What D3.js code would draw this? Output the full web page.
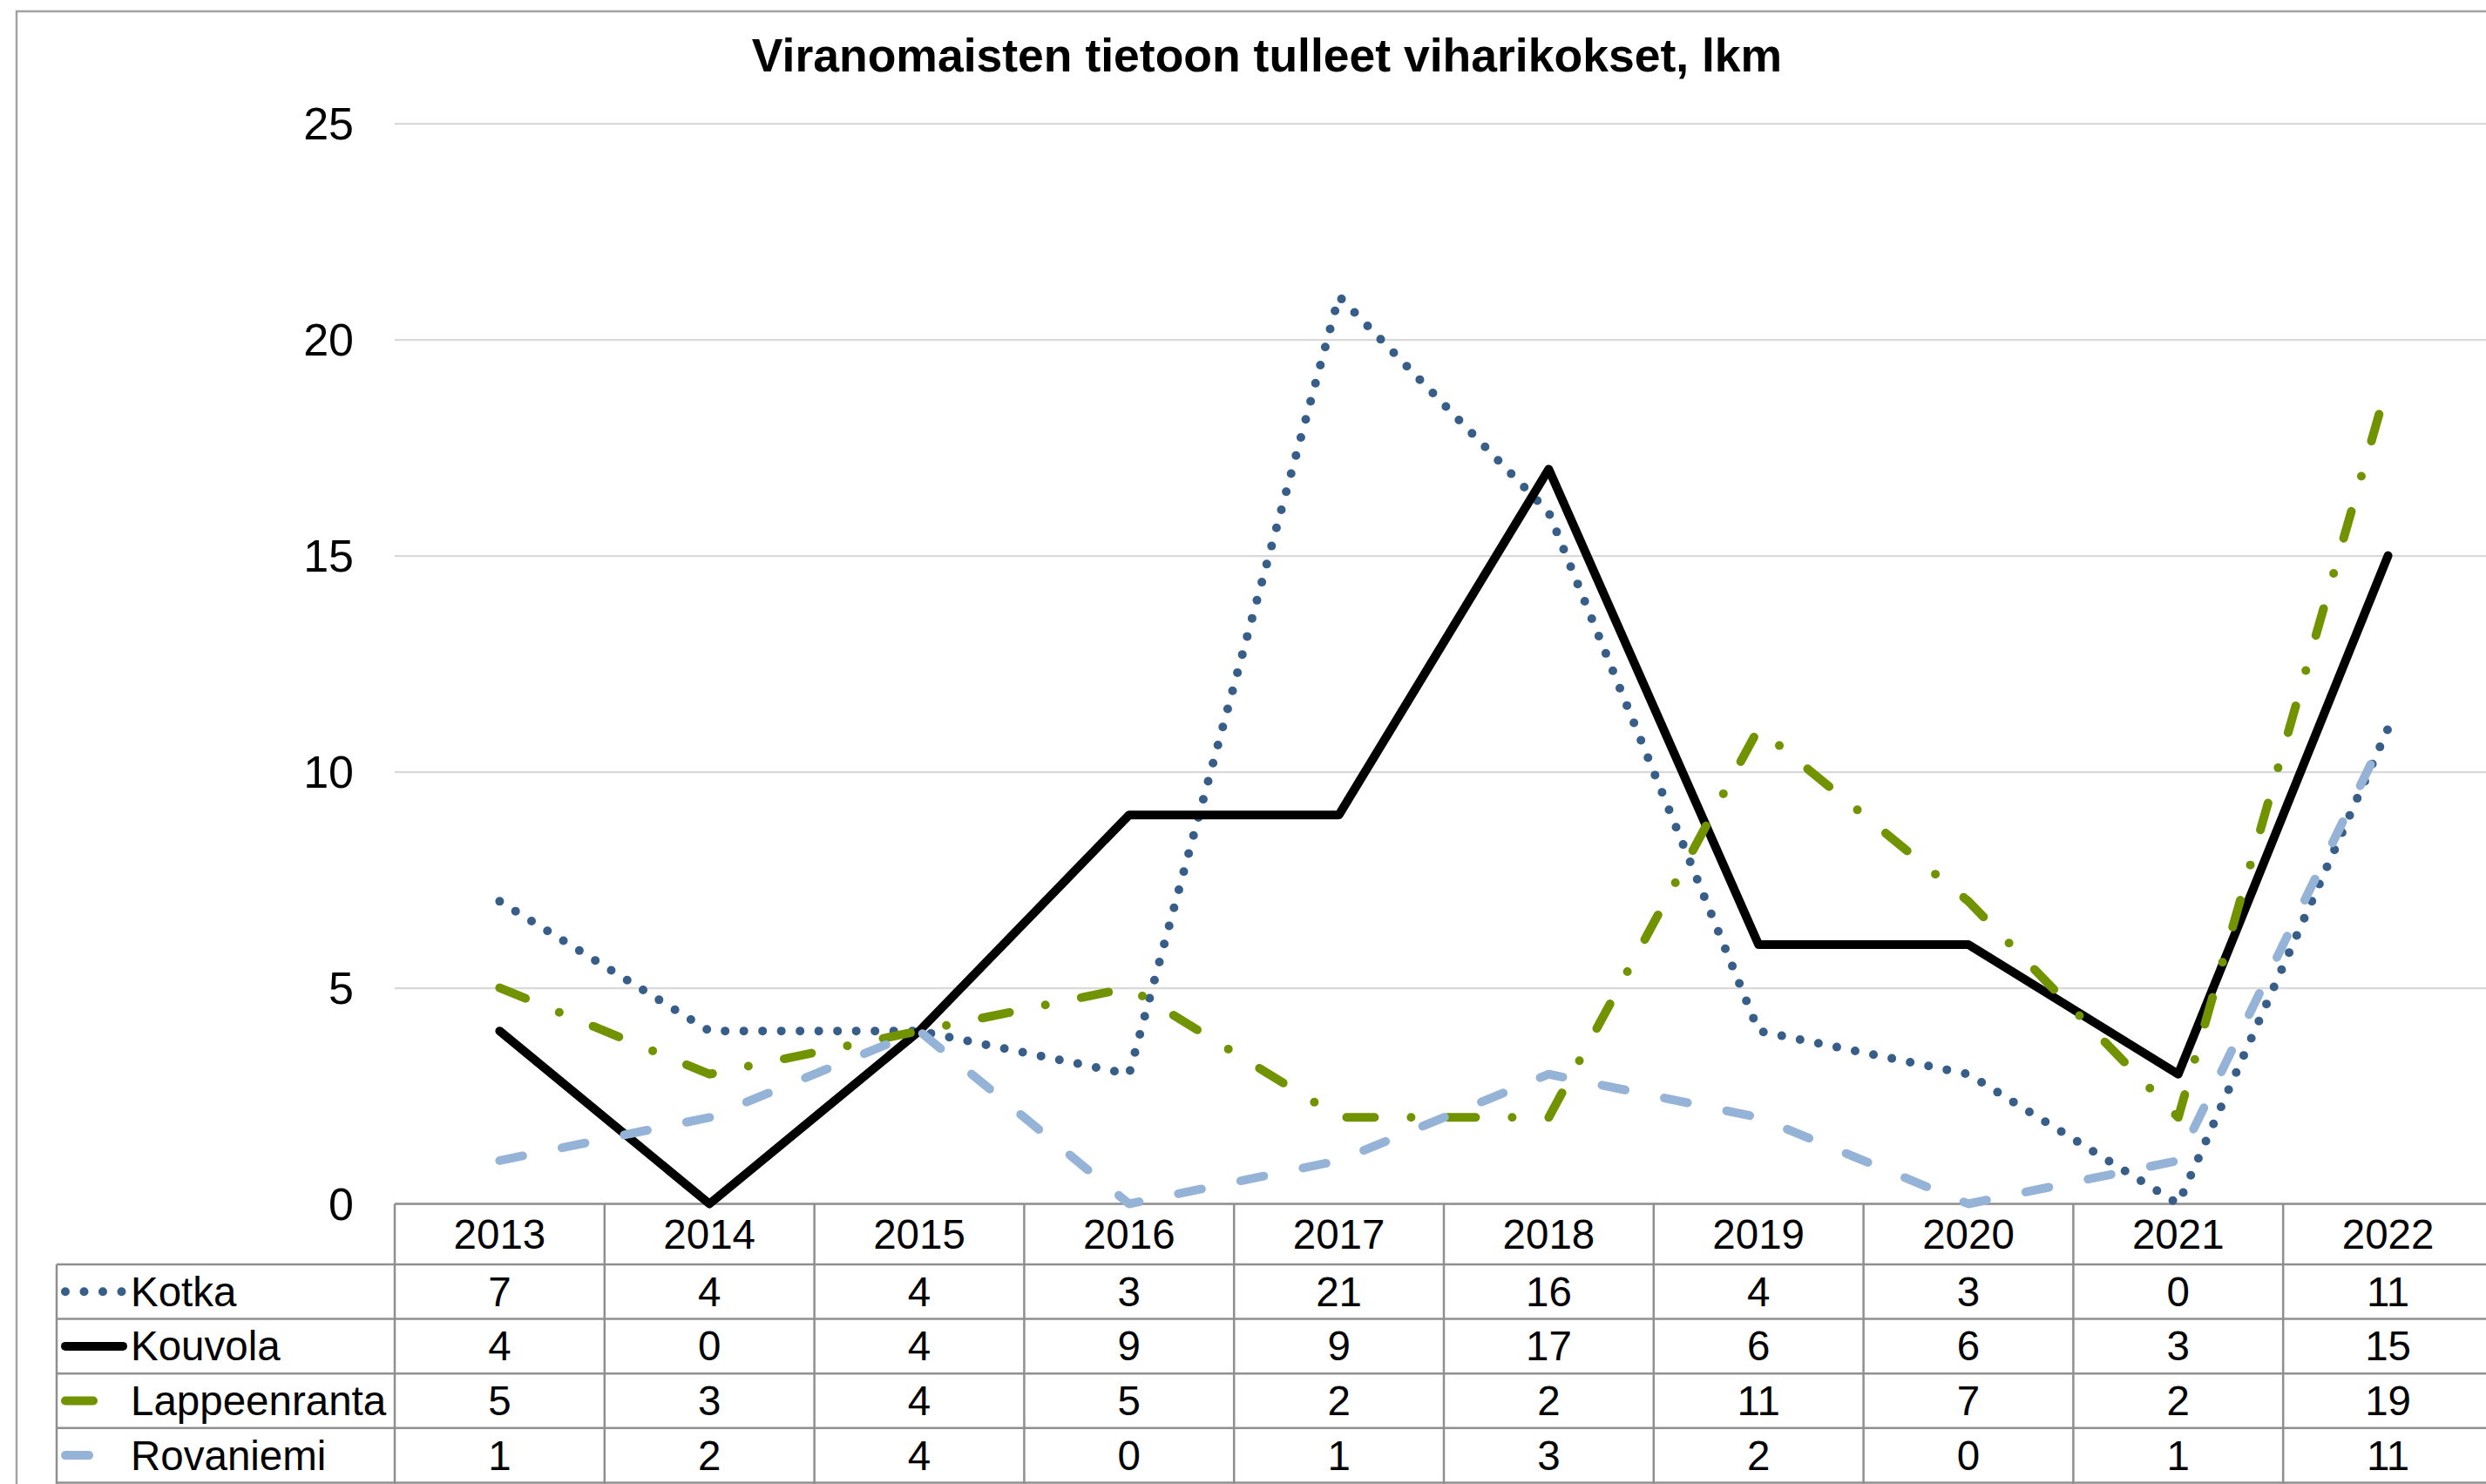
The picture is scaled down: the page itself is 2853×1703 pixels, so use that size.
<!DOCTYPE html>
<html>
<head>
<meta charset="utf-8">
<script src="https://cdn.jsdelivr.net/npm/d3@7"></script>
<style>
  html, body { margin: 0; padding: 0; background: #fff; }
  body { width: 2853px; height: 1703px; overflow: hidden; }
  text { font-family: "Liberation Sans", Arial, sans-serif; fill: #000; }
</style>
</head>
<body>
<script>
//data
const years = ['2013', '2014', '2015', '2016', '2017', '2018', '2019', '2020', '2021', '2022']
const kotka = [7, 4, 4, 3, 21, 16, 4, 3, 0, 11]
const kouvola = [4, 0, 4, 9, 9, 17, 6, 6, 3, 15]
const lappeenranta = [5, 3, 4, 5, 2, 2, 11, 7, 2, 19]
const rovaniemi = [1, 2, 4, 0, 1, 3, 2, 0, 1, 11]
const yTicks = [0, 5, 10, 15, 20, 25]

const chartTitle = 'Viranomaisten tietoon tulleet viharikokset, lkm'

//series with their line styles (later ones drawn on top)
const series = [
  { name: 'Kotka', values: kotka, color: '#375d89', width: 10, dash: '0 21.5' },
  { name: 'Kouvola', values: kouvola, color: '#000000', width: 10, dash: null },
  { name: 'Lappeenranta', values: lappeenranta, color: '#729300', width: 10, dash: '32 42 0 42' },
  { name: 'Rovaniemi', values: rovaniemi, color: '#95b3d7', width: 10, dash: '27 46' }
]

const width = 2853
const height = 1703

//plot area
const plotLeft = 453
const plotRight = 2861
const plotTop = 141.7
const plotBottom = 1381.5

//table below the plot
const headerBottom = 1451
const rowHeight = 62.6
const tableLeft = 65
const lineColor = '#8f8f8f'
const tableFont = 47.5

const svg = d3.select('body')
  .append('svg')
  .attr('width', width)
  .attr('height', height)

//outer chart frame (runs off the right and bottom)
svg.append('path')
  .attr('d', `M19,${height + 5}V13H${width + 5}`)
  .attr('fill', 'none')
  .attr('stroke', '#a3a3a3')
  .attr('stroke-width', 2.5)

//=================SCALES===================
const xScale = d3.scaleBand()
  .domain(years)
  .range([plotLeft, plotRight])

const xCenter = d => xScale(d) + xScale.bandwidth() / 2

const yScale = d3.scaleLinear()
  .domain([0, 25])
  .range([plotBottom, plotTop])

//=================== Y-AXIS ==================
const yAxis = d3.axisLeft(yScale)
  .tickValues(yTicks)
  .tickSize(-(width - plotLeft))
  .tickPadding(47)

const yAxisGroup = svg.append('g')
  .attr('transform', `translate(${plotLeft},0)`)
  .call(yAxis)

yAxisGroup.select('.domain').remove()
yAxisGroup.selectAll('.tick line')
  .attr('stroke', '#d9d9d9')
  .attr('stroke-width', 2.2)
yAxisGroup.selectAll('.tick text')
  .attr('font-size', 52)
  .attr('font-family', '"Liberation Sans", Arial, sans-serif')
  .attr('fill', '#000')
  .attr('dy', '0.34em')

//=================== TITLE ==================
svg.append('text')
  .text(chartTitle)
  .attr('x', 1454)
  .attr('y', 82)
  .attr('text-anchor', 'middle')
  .attr('font-size', 53.5)
  .attr('font-weight', 'bold')

//=================== DATA TABLE ==================
const table = svg.append('g')
const rowTop = i => headerBottom + i * rowHeight

//horizontal rules
table.append('line')
  .attr('x1', plotLeft).attr('x2', width + 10)
  .attr('y1', plotBottom).attr('y2', plotBottom)
  .attr('stroke', lineColor).attr('stroke-width', 2.5)

table.selectAll('line.hrow')
  .data(d3.range(series.length + 1))
  .enter()
  .append('line')
  .attr('class', 'hrow')
  .attr('x1', tableLeft).attr('x2', width + 10)
  .attr('y1', d => rowTop(d)).attr('y2', d => rowTop(d))
  .attr('stroke', lineColor).attr('stroke-width', 2.5)

//vertical rules at every column edge
table.selectAll('line.vcol')
  .data(years)
  .enter()
  .append('line')
  .attr('class', 'vcol')
  .attr('x1', d => xScale(d)).attr('x2', d => xScale(d))
  .attr('y1', plotBottom).attr('y2', height + 5)
  .attr('stroke', lineColor).attr('stroke-width', 2.5)

table.append('line')
  .attr('x1', tableLeft).attr('x2', tableLeft)
  .attr('y1', headerBottom).attr('y2', height + 5)
  .attr('stroke', lineColor).attr('stroke-width', 2.5)

//year header
table.selectAll('text.year')
  .data(years)
  .enter()
  .append('text')
  .attr('class', 'year')
  .text(d => d)
  .attr('x', xCenter)
  .attr('y', (plotBottom + headerBottom) / 2 + 16.5)
  .attr('text-anchor', 'middle')
  .attr('font-size', tableFont)

//value rows with legend keys
series.forEach((s, i) => {
  const cy = rowTop(i) + rowHeight / 2

  table.append('line')
    .attr('x1', 75).attr('x2', 141)
    .attr('y1', cy).attr('y2', cy)
    .attr('stroke', s.color)
    .attr('stroke-width', s.width)
    .attr('stroke-linecap', 'round')
    .attr('stroke-dasharray', s.dash)

  table.append('text')
    .text(s.name)
    .attr('x', 150)
    .attr('y', cy + 16.5)
    .attr('font-size', tableFont)

  table.selectAll(`text.v${i}`)
    .data(s.values)
    .enter()
    .append('text')
    .attr('class', `v${i}`)
    .text(d => d)
    .attr('x', (d, j) => xCenter(years[j]))
    .attr('y', cy + 16.5)
    .attr('text-anchor', 'middle')
    .attr('font-size', tableFont)
})

//=================== LINES ==================
const line = d3.line()
  .x((d, j) => xCenter(years[j]))
  .y(d => yScale(d))

svg.append('g')
  .selectAll('path')
  .data(series)
  .enter()
  .append('path')
  .attr('d', d => line(d.values))
  .attr('fill', 'none')
  .attr('stroke', d => d.color)
  .attr('stroke-width', d => d.width)
  .attr('stroke-linecap', 'round')
  .attr('stroke-linejoin', 'round')
  .attr('stroke-dasharray', d => d.dash)
</script>
</body>
</html>
